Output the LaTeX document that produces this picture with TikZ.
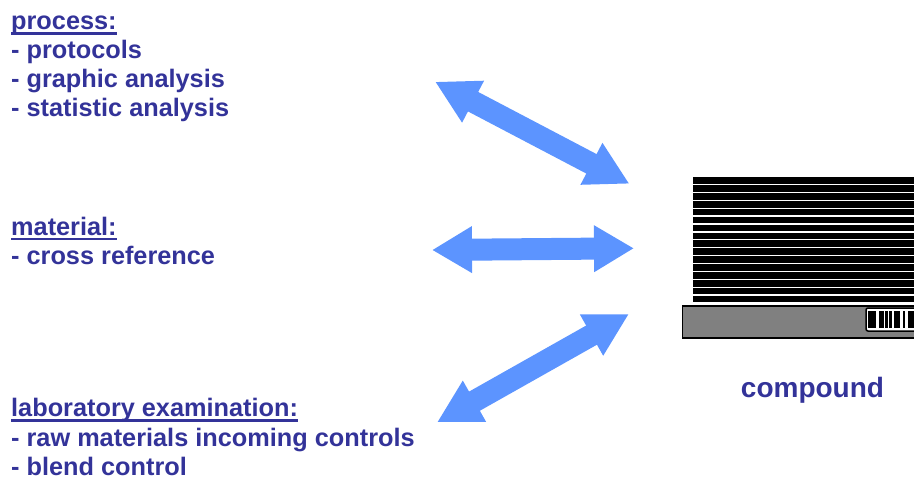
\documentclass[tikz,border=0pt]{standalone}
\usepackage{fontspec}
\setmainfont{Liberation Sans}
\usepackage{xcolor}
\usetikzlibrary{arrows.meta, positioning}
\definecolor{labelblue}{HTML}{333399}
\definecolor{arrowblue}{HTML}{5C94FF}
\newsavebox\headbox
\newcommand{\headline}[1]{\sbox\headbox{#1}\usebox\headbox\llap{\rule[-5.2pt]{\wd\headbox}{2.6pt}}}

\begin{document}
\begin{tikzpicture}[
        x=1pt, y=-1pt,
        topic/.style = {anchor=north west, inner sep=0pt, align=left, text=labelblue, font=\fontsize{25.3}{29.2}\selectfont\bfseries},
        compound/.style = {inner sep=0pt, text=labelblue, font=\fontsize{28}{32}\selectfont\bfseries},
        flow/.style = {{Triangle[length=#1,width=44pt]}-{Triangle[length=#1,width=44pt]}, line width=22pt, draw=arrowblue, fill=arrowblue},
        flow/.default = 43pt,
        plate/.style = {fill=black},
        barcode/.style = {fill=black}
    ]
    \useasboundingbox (0,0) rectangle (914,480);

    \node[topic] (process) at (11,15.5) {\headline{process:}\\- protocols\\- graphic analysis\\- statistic analysis};
    \node[topic] (material) at (11,216.5) {\headline{material:}\\- cross reference};
    \node[topic] (lab) at (11,398.3) {\headline{laboratory examination:}\\- raw materials incoming controls\\- blend control};
    \node[compound] (comp) at (812.5,390) {compound};

    % stacked plates
    \foreach \i in {0,...,15}
        \fill[plate] (692.7,{177.2+7.9*\i}) rectangle (916,{183.8+7.9*\i});

    % base with barcode label
    \draw[fill=black!50, line width=1.5pt] (682.5,306) rectangle (918,338);
    \draw[fill=white, line width=1.5pt, rounded corners=2pt] (866,308) rectangle (920,331);
    \foreach \a/\b in {868.3/876, 879/884, 885/888, 889/891.7, 894/897.5, 898/900, 902.7/905, 907.7/914}
        \fill[barcode] (\a,311.3) rectangle (\b,328.3);

    % arrow ends
    \coordinate (a1) at (435,81.7);
    \coordinate (b1) at (629.5,183.8);
    \coordinate (a2) at (432,250);
    \coordinate (b2) at (634,248.3);
    \coordinate (a3) at (437,422.3);
    \coordinate (b3) at (629,314);

    \draw[flow] (a1) -- (b1);
    \draw[flow=40pt] (a2) -- (b2);
    \draw[flow] (a3) -- (b3);
\end{tikzpicture}
\end{document}
